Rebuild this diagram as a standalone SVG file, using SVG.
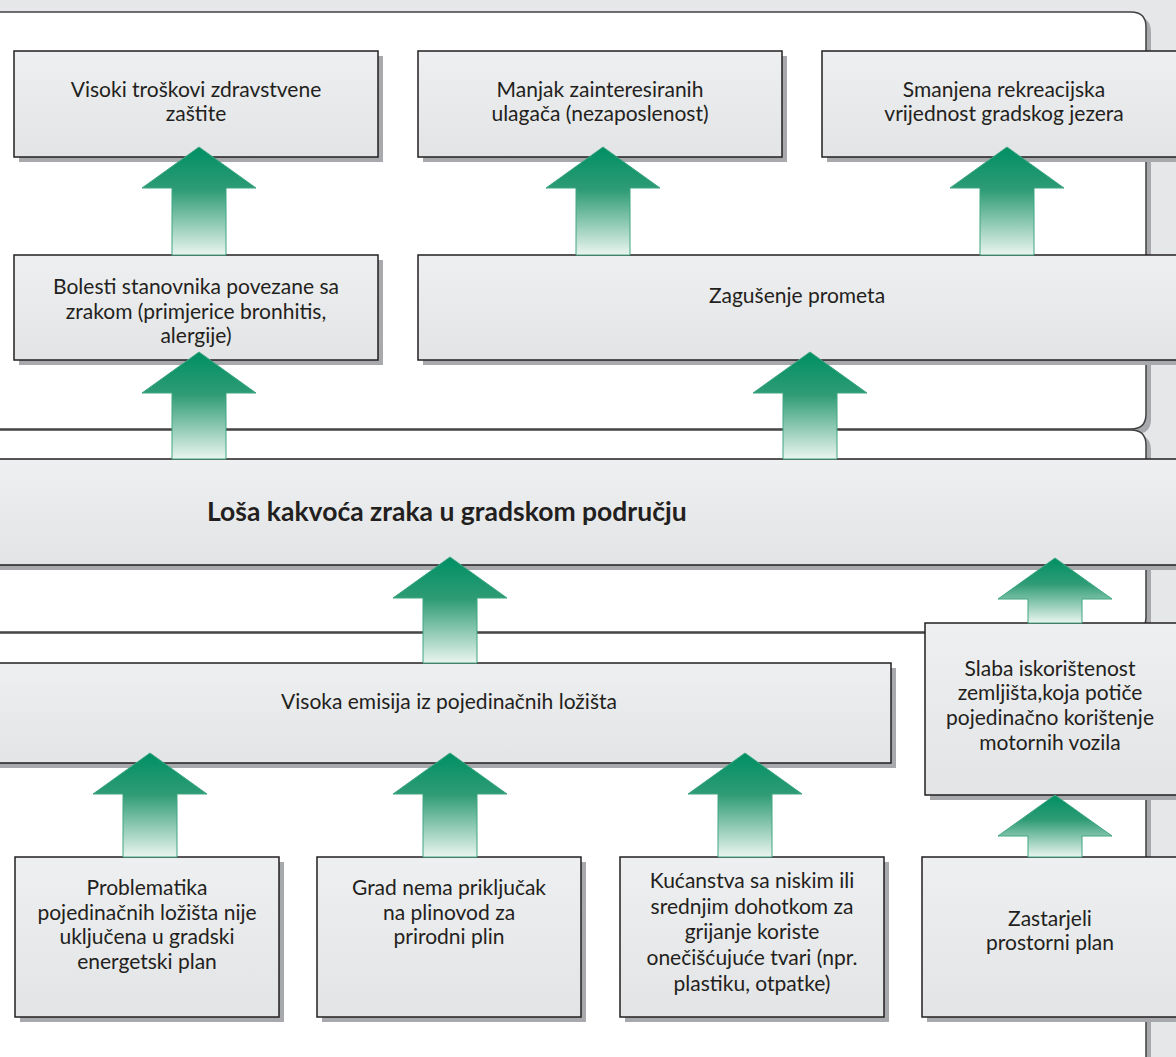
<svg xmlns="http://www.w3.org/2000/svg" width="1176" height="1057" viewBox="0 0 1176 1057">
<defs>
<linearGradient id="boxg" x1="0" y1="0" x2="0" y2="1">
<stop offset="0" stop-color="#eeeff0"/>
<stop offset="1" stop-color="#e3e4e5"/>
</linearGradient>
<linearGradient id="arrg" x1="0" y1="0" x2="0" y2="1">
<stop offset="0" stop-color="#008f63"/>
<stop offset="0.4" stop-color="#2f9c76"/>
<stop offset="1" stop-color="#eaf5f0"/>
</linearGradient>
<style>
.bg{fill:#e6e7e8}
.panel{fill:#ffffff;stroke:#414042;stroke-width:1.5}
.pshadow{fill:#a7a9ac}
.box{fill:url(#boxg);stroke:#231f20;stroke-width:1.5}
.shadow{fill:#a7a9ac}
.arrow{fill:url(#arrg);stroke:#3fa680;stroke-width:1}
text{font-family:Lato,"Noto Sans","Liberation Sans",sans-serif;font-size:21px;fill:#231f20;text-anchor:middle}
.bold{font-weight:bold;font-size:26.5px;text-anchor:start}
</style>
</defs>
<rect class="bg" x="0" y="0" width="1176" height="1057"/>
<g id="panels">
<path class="pshadow" d="M-10 17 H1136 Q1151 17 1151 32 V419 Q1151 434 1136 434 H-10 Z"/>
<path class="panel" d="M-10 12 H1131 Q1146 12 1146 27 V414 Q1146 429 1131 429 H-10 Z"/>
<path class="pshadow" d="M-10 435 H1136 Q1151 435 1151 450 V622 Q1151 637 1136 637 H-10 Z"/>
<path class="panel" d="M-10 430 H1131 Q1146 430 1146 445 V617 Q1146 632 1131 632 H-10 Z"/>
<path class="pshadow" d="M-10 638 H1136 Q1151 638 1151 653 V1065 Q1151 1080 1136 1080 H-10 Z"/>
<path class="panel" d="M-10 633 H1131 Q1146 633 1146 648 V1060 Q1146 1075 1131 1075 H-10 Z"/>
</g>
<g id="n1">
<rect class="shadow" x="19" y="56" width="364" height="106"/>
<rect class="box" x="14" y="51" width="364" height="106"/>
<text x="196" y="97">Visoki troškovi zdravstvene</text>
<text x="196" y="121">zaštite</text>
</g>
<g id="n2">
<rect class="shadow" x="423" y="56" width="364" height="106"/>
<rect class="box" x="418" y="51" width="364" height="106"/>
<text x="600" y="97">Manjak zainteresiranih</text>
<text x="600" y="121">ulagača (nezaposlenost)</text>
</g>
<g id="n3">
<rect class="shadow" x="827" y="56" width="364" height="106"/>
<rect class="box" x="822" y="51" width="364" height="106"/>
<text x="1004" y="97">Smanjena rekreacijska</text>
<text x="1004" y="121">vrijednost gradskog jezera</text>
</g>
<g id="n4">
<rect class="shadow" x="19" y="260" width="364" height="105"/>
<rect class="box" x="14" y="255" width="364" height="105"/>
<text x="196" y="294">Bolesti stanovnika povezane sa</text>
<text x="196" y="319">zrakom (primjerice bronhitis,</text>
<text x="196" y="343">alergije)</text>
</g>
<g id="n5">
<rect class="shadow" x="423" y="260" width="770" height="105"/>
<rect class="box" x="418" y="255" width="770" height="105"/>
<text x="797" y="303">Zagušenje prometa</text>
</g>
<g id="n6">
<rect class="shadow" x="-10" y="464" width="1200" height="106"/>
<rect class="box" x="-10" y="459" width="1200" height="106"/>
<text class="bold" x="207" y="521">Loša kakvoća zraka u gradskom području</text>
</g>
<g id="n7">
<rect class="shadow" x="-5" y="668" width="901" height="100"/>
<rect class="box" x="-10" y="663" width="901" height="100"/>
<text x="449" y="709">Visoka emisija iz pojedinačnih ložišta</text>
</g>
<g id="n8">
<rect class="shadow" x="930" y="628" width="260" height="172"/>
<rect class="box" x="925" y="623" width="260" height="172"/>
<text x="1050" y="676">Slaba iskorištenost</text>
<text x="1050" y="700">zemljišta,koja potiče</text>
<text x="1050" y="725">pojedinačno korištenje</text>
<text x="1050" y="750">motornih vozila</text>
</g>
<g id="n9">
<rect class="shadow" x="20" y="862" width="264" height="160"/>
<rect class="box" x="15" y="857" width="264" height="160"/>
<text x="147" y="895">Problematika</text>
<text x="147" y="920">pojedinačnih ložišta nije</text>
<text x="147" y="944">uključena u gradski</text>
<text x="147" y="969">energetski plan</text>
</g>
<g id="n10">
<rect class="shadow" x="322" y="862" width="264" height="160"/>
<rect class="box" x="317" y="857" width="264" height="160"/>
<text x="449" y="895">Grad nema priključak</text>
<text x="449" y="920">na plinovod za</text>
<text x="449" y="944">prirodni plin</text>
</g>
<g id="n11">
<rect class="shadow" x="625" y="862" width="264" height="160"/>
<rect class="box" x="620" y="857" width="264" height="160"/>
<text x="752" y="888">Kućanstva sa niskim ili</text>
<text x="752" y="914">srednjim dohotkom za</text>
<text x="752" y="939">grijanje koriste</text>
<text x="752" y="965">onečišćujuće tvari (npr.</text>
<text x="752" y="991">plastiku, otpatke)</text>
</g>
<g id="n12">
<rect class="shadow" x="927" y="862" width="264" height="160"/>
<rect class="box" x="922" y="857" width="264" height="160"/>
<text x="1050" y="926">Zastarjeli</text>
<text x="1050" y="950">prostorni plan</text>
</g>
<g id="connectors">
<path class="arrow" d="M199 147 L256 188 L226 188 L226 255 L172 255 L172 188 L142 188 Z"/>
<path class="arrow" d="M603 147 L660 188 L630 188 L630 255 L576 255 L576 188 L546 188 Z"/>
<path class="arrow" d="M1007 147 L1064 188 L1034 188 L1034 255 L980 255 L980 188 L950 188 Z"/>
<path class="arrow" d="M199 352 L256 393 L226 393 L226 459 L172 459 L172 393 L142 393 Z"/>
<path class="arrow" d="M810 352 L867 393 L837 393 L837 459 L783 459 L783 393 L753 393 Z"/>
<path class="arrow" d="M450 557 L507 598 L477 598 L477 663 L423 663 L423 598 L393 598 Z"/>
<path class="arrow" d="M1055 558 L1112 599 L1082 599 L1082 623 L1028 623 L1028 599 L998 599 Z"/>
<path class="arrow" d="M150 753 L207 794 L177 794 L177 857 L123 857 L123 794 L93 794 Z"/>
<path class="arrow" d="M450 753 L507 794 L477 794 L477 857 L423 857 L423 794 L393 794 Z"/>
<path class="arrow" d="M745 753 L802 794 L772 794 L772 857 L718 857 L718 794 L688 794 Z"/>
<path class="arrow" d="M1055 795 L1112 836 L1082 836 L1082 857 L1028 857 L1028 836 L998 836 Z"/>
</g>
</svg>
